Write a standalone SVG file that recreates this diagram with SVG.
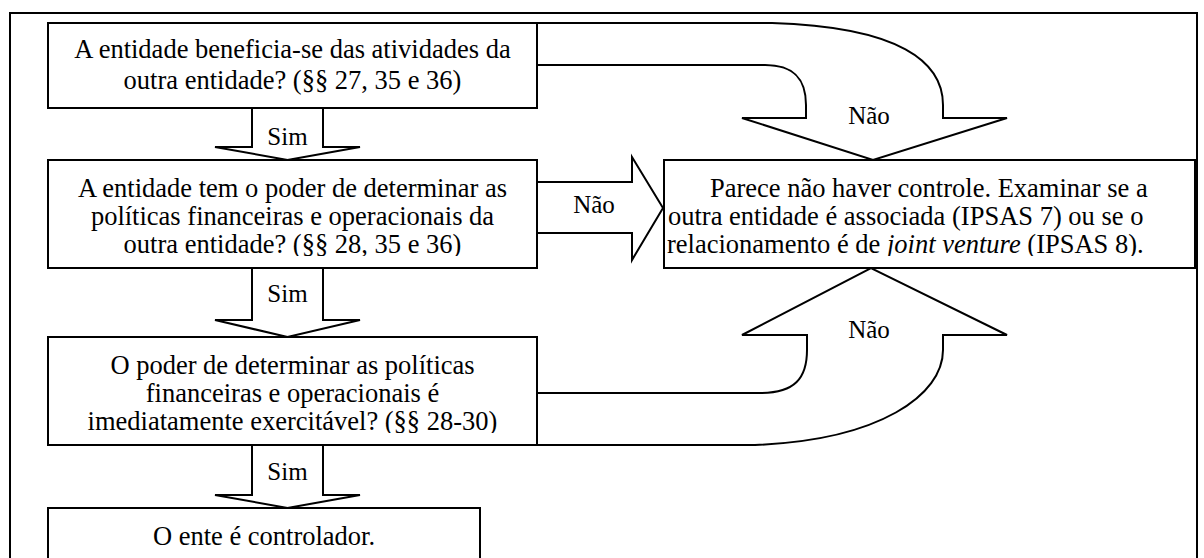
<svg xmlns="http://www.w3.org/2000/svg" width="1204" height="558" viewBox="0 0 1204 558">
<style>
.box{fill:#fff;stroke:#000;stroke-width:2}
.ln{fill:none;stroke:#000;stroke-width:2;stroke-linejoin:miter}
.ar{fill:#fff;stroke:#000;stroke-width:2;stroke-linejoin:miter}
text{font-family:'Liberation Serif','Times New Roman','DejaVu Serif',serif;fill:#000}
.t{font-size:26.5px}
.c{text-anchor:middle}
.lb{font-size:25px;text-anchor:middle}
</style>
<defs>
<clipPath id="cp2"><rect x="48" y="160" width="489" height="96"/></clipPath>
<clipPath id="cp3"><rect x="48" y="337" width="489" height="96"/></clipPath>
<clipPath id="cpR"><rect x="664" y="160" width="531" height="96"/></clipPath>
</defs>
<rect x="0" y="0" width="1204" height="558" fill="#fff"/>
<g id="frame"><path class="ln" d="M10 560 L10 13 L1197 13 L1197 560"/></g>
<g id="connectors" font-family="Liberation Serif, DejaVu Serif, serif">
  <path class="ar" d="M252 108 L252 147 L215 147 L287.5 160 L360 147 L323 147 L323 108"/>
  <path class="ar" d="M252 268 L252 320 L215 320 L287.5 337 L360 320 L323 320 L323 268"/>
  <path class="ar" d="M252 445 L252 495 L215 495 L287.5 508 L360 495 L323 495 L323 445"/>
  <path class="ar" d="M537 182 L632 182 L632 157 L663 208 L632 260 L632 233 L537 233"/>
  <path class="ar" d="M537 23 L772 23 C900 27 943 62 943 105 L943 118 L1007 118 L873 160 L742 118 L806 118 L806 105 C806 80 795 65 765 65 L537 65"/>
  <path class="ar" d="M537 445 L755 445 C880 440 943 395 943 350 L943 335 L1007 335 L871 268 L742 335 L807 335 L807 350 C807 378 795 393 760 393 L537 393"/>
  <text class="lb" x="287.5" y="145">Sim</text>
  <text class="lb" x="287.5" y="302">Sim</text>
  <text class="lb" x="287.5" y="480">Sim</text>
  <text class="lb" x="594" y="213">Não</text>
  <text class="lb" x="869" y="124">Não</text>
  <text class="lb" x="869" y="338">Não</text>
</g>
<g id="n1" font-family="Liberation Serif, DejaVu Serif, serif">
  <rect class="box" x="48" y="23" width="489" height="85"/>
  <text class="t c" x="292.5" y="58">A entidade beneficia-se das atividades da</text>
  <text class="t c" x="292.5" y="89">outra entidade? (§§ 27, 35 e 36)</text>
</g>
<g id="n2" font-family="Liberation Serif, DejaVu Serif, serif">
  <rect class="box" x="48" y="160" width="489" height="108"/>
  <g clip-path="url(#cp2)">
  <text class="t c" x="292.5" y="197">A entidade tem o poder de determinar as</text>
  <text class="t c" x="292.5" y="225">políticas financeiras e operacionais da</text>
  <text class="t c" x="292.5" y="253">outra entidade? (§§ 28, 35 e 36)</text>
  </g>
</g>
<g id="n3" font-family="Liberation Serif, DejaVu Serif, serif">
  <rect class="box" x="48" y="337" width="489" height="108"/>
  <g clip-path="url(#cp3)">
  <text class="t c" x="292.5" y="374">O poder de determinar as políticas</text>
  <text class="t c" x="292.5" y="402">financeiras e operacionais é</text>
  <text class="t c" x="292.5" y="430">imediatamente exercitável? (§§ 28-30)</text>
  </g>
</g>
<g id="n4" font-family="Liberation Serif, DejaVu Serif, serif">
  <path class="box" d="M48 560 L48 508 L480 508 L480 560"/>
  <text class="t c" x="264" y="545">O ente é controlador.</text>
</g>
<g id="nR" font-family="Liberation Serif, DejaVu Serif, serif">
  <rect class="box" x="664" y="160" width="531" height="108"/>
  <g clip-path="url(#cpR)">
  <text class="t" x="710" y="197">Parece não haver controle. Examinar se a</text>
  <text class="t" x="668" y="225">outra entidade é associada (IPSAS 7) ou se o</text>
  <text class="t" x="667" y="253">relacionamento é de <tspan font-style="italic">joint venture</tspan> (IPSAS 8).</text>
  </g>
</g>
</svg>
